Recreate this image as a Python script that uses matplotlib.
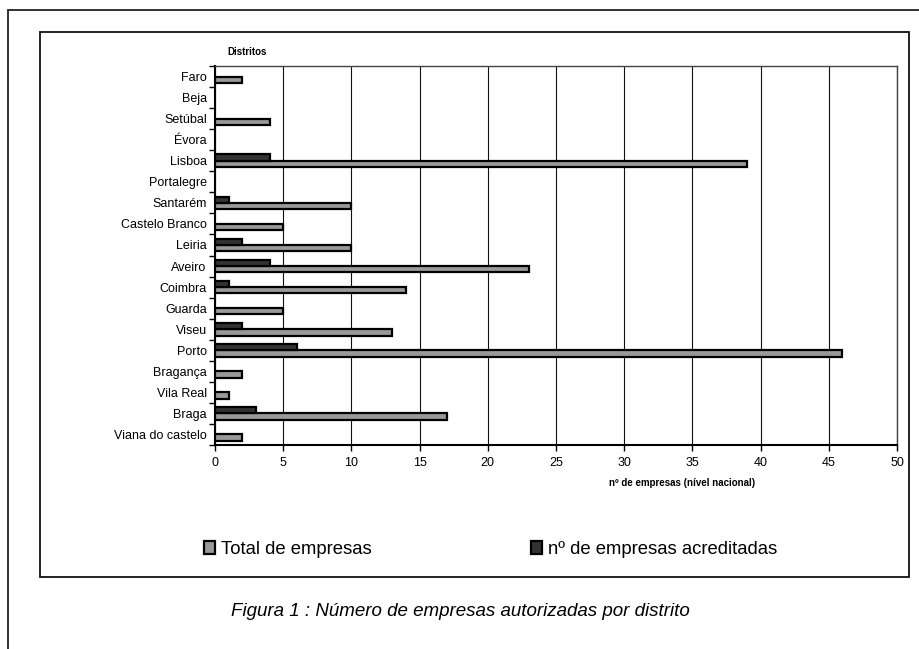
import matplotlib
matplotlib.use("Agg")
import matplotlib.pyplot as plt
from matplotlib.patches import Rectangle, Patch
import numpy as np

plt.rcParams['font.family'] = ['Liberation Sans', 'DejaVu Sans']

districts = ["Faro", "Beja", "Setúbal", "Évora", "Lisboa", "Portalegre", "Santarém",
             "Castelo Branco", "Leiria", "Aveiro", "Coimbra", "Guarda", "Viseu", "Porto",
             "Bragança", "Vila Real", "Braga", "Viana do castelo"]
total = [2, 0, 4, 0, 39, 0, 10, 5, 10, 23, 14, 5, 13, 46, 2, 1, 17, 2]
acreditadas = [0, 0, 0, 0, 4, 0, 1, 0, 2, 4, 1, 0, 2, 6, 0, 0, 3, 0]
xticks = [0, 5, 10, 15, 20, 25, 30, 35, 40, 45, 50]
series_labels = ["Total de empresas", "nº de empresas acreditadas"]
series_colors = ['#999999', '#333333']

W, H = 919, 649
fig = plt.figure(figsize=(W / 100, H / 100), dpi=100)

def fx(x):
    return x / W

def fy(y):
    return 1 - y / H

# outer frame
fig.patches.append(Rectangle((fx(8), fy(700)), fx(1000), fy(10) - fy(700),
                             transform=fig.transFigure, fill=False,
                             edgecolor='#222222', linewidth=1.3))
# inner frame
fig.patches.append(Rectangle((fx(40), fy(577)), fx(909) - fx(40), fy(32) - fy(577),
                             transform=fig.transFigure, fill=False,
                             edgecolor='#111111', linewidth=1.3))

ax = fig.add_axes([fx(215), fy(445), fx(897) - fx(215), fy(66) - fy(445)])

n = len(districts)
ypos = np.arange(n)[::-1]
h = 0.30
b1 = ax.barh(ypos - h / 2, total, height=h, color=series_colors[0], edgecolor='black',
             linewidth=1.6, zorder=3)
b2 = ax.barh(ypos + h / 2, acreditadas, height=h, color=series_colors[1], edgecolor='black',
             linewidth=1.6, zorder=3)
for rect in list(b1) + list(b2):
    if rect.get_width() == 0:
        rect.set_visible(False)

ax.set_xlim(0, 50)
ax.set_ylim(-0.5, n - 0.5)
ax.set_xticks(xticks)
ax.set_xticklabels([str(t) for t in xticks], fontsize=9)
ax.xaxis.grid(True, color='#111111', linewidth=0.8, zorder=0)
ax.set_axisbelow(True)

ax.set_yticks(np.arange(-0.5, n, 1.0))
ax.set_yticklabels([])
ax.set_yticks(ypos, minor=True)
ax.set_yticklabels(districts, minor=True, fontsize=9)
ax.tick_params(axis='y', which='minor', length=0, pad=6)
ax.tick_params(axis='y', which='major', length=4, width=1, direction='out')
ax.tick_params(axis='x', length=4, width=1, direction='out', pad=5)

for s in ['left', 'bottom']:
    ax.spines[s].set_linewidth(1.5)
for s in ['top', 'right']:
    ax.spines[s].set_linewidth(1.0)
    ax.spines[s].set_color('#444444')

fig.text(fx(247), fy(52), "Distritos", fontsize=7, fontweight='bold',
         ha='center', va='center')
fig.text(fx(682), fy(483), "nº de empresas (nível nacional)", fontsize=7,
         fontweight='bold', ha='center', va='center')

handles = [Patch(facecolor=c, edgecolor='black', linewidth=1.6) for c in series_colors]
fig.legend(handles=handles, labels=series_labels, loc='center left',
           bbox_to_anchor=(fx(204), fy(549)), ncol=2, frameon=False,
           fontsize=13.3, handlelength=0.6, handleheight=0.7, handletextpad=0.3,
           columnspacing=8.65, borderaxespad=0, borderpad=0)

fig.text(fx(460), fy(611), "Figura 1 : Número de empresas autorizadas por distrito",
         fontsize=13.5, style='italic', ha='center', va='center')

fig.savefig("out.png", dpi=100)
